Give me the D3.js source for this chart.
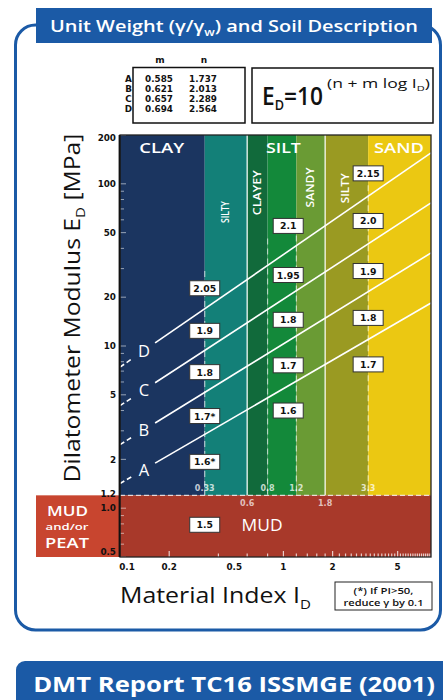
<!DOCTYPE html>
<html><head><meta charset="utf-8">
<script src="https://cdn.jsdelivr.net/npm/d3@7"></script>
<style>body{margin:0;background:#fff}svg{display:block}text{font-family:'Open Sans','Noto Sans',sans-serif}</style>
</head><body>
<script>
// ---- data ----
const curveNames = ["A","B","C","D"];
const mValues = [0.585,0.621,0.657,0.694];
const nValues = [1.737,2.013,2.289,2.564];
const zoneBounds = [0.1,0.33,0.6,0.8,1.2,1.8,3.3,8];
const zoneColors = ["#1b3560","#138078","#116a3b","#13893a","#6a9b34","#9a9a22","#ebc812"];
const mainSoilNames = ["CLAY","SILT","SAND"];
const mainSoilID = [0.18,1.0,5.1];
const mainSoilWidth = [45,35,50];
const subSoilNames = ["SILTY","CLAYEY","SANDY","SILTY"];
const subSoilID = [0.445,0.693,1.47,2.4];
const subSoilED = [67,88,95,94];
const subSoilLen = [22,45,40,30];
const solidBounds = [0.6,1.8];
const dashedBounds = [0.33,0.8,1.2,3.3];
const dashedTopED = [29,46,48,98];
const upperBoundLabels = ["0.33","0.8","1.2","3.3"];
const mudBoundLabels = ["0.6","1.8"];
const gammaText = ["2.05","1.9","1.8","1.7*","1.6*","2.1","1.95","1.8","1.7","1.6","2.15","2.0","1.9","1.8","1.7","1.5"];
const gammaID = [0.33,0.33,0.33,0.33,0.33,1.07,1.07,1.07,1.07,1.07,3.3,3.3,3.3,3.3,3.3,0.33];
const gammaED = [22.7,12.4,6.9,3.7,1.93,55,27.4,14.5,7.6,4.0,116,59,29,14.9,7.7,0.79];
const yTickValues = [200,100,50,20,10,5,2,1.2,1.0,0.5];
const yTickLabels = ["200","100","50","20","10","5","2","1.2","1.0","0.5"];
const xTickValues = [0.1,0.2,0.5,1,2,5];
const xTickLabels = ["0.1","0.2","0.5","1","2","5"];
const mudLimitED = 1.2;
const xDomain = [0.1,8];
const yDomain = [0.5,200];

// ---- layout ----
const W = 443, H = 700;
const L = 120, R = 431, T = 135, B = 557;
const blue = "#1b5aa6";
const DJ = "'DejaVu Sans',sans-serif";
const svg = d3.select("body").append("svg").attr("width",W).attr("height",H);
svg.append("rect").attr("width",W).attr("height",H).attr("fill","#fff");

const x = d3.scaleLog().domain(xDomain).range([L,R]);
const y = d3.scaleLog().domain(yDomain).range([B,T]);
const yMud = y(mudLimitED);

// text helper: writes real text, stretched horizontally to a target width
function fitText(parent, segs, o){
  const g = parent.append("g");
  const t = g.append("text").attr("text-anchor",o.anchor||"middle").attr("fill",o.fill||"#111")
    .attr("font-size",o.size).attr("font-weight",o.weight||500);
  if(o.family) t.style("font-family",o.family);
  segs.forEach(s=>{
    const ts = t.append("tspan").text(s.t);
    if(s.size) ts.attr("font-size",s.size);
    if(s.dy) ts.attr("dy",s.dy);
  });
  const bw = t.node().getComputedTextLength();
  const sx = o.w ? o.w/bw : (o.sx||1);
  g.attr("transform",`translate(${o.x},${o.y}) rotate(${o.rot||0}) scale(${sx},1)`);
  return g;
}

// frame
svg.append("rect").attr("x",15.5).attr("y",25).attr("width",425).attr("height",605)
  .attr("rx",20).attr("fill","none").attr("stroke",blue).attr("stroke-width",3);
svg.append("rect").attr("x",36).attr("y",8).attr("width",396).attr("height",35).attr("fill",blue);
fitText(svg,[{t:"Unit Weight (γ/γ"},{t:"w",size:11,dy:4},{t:") and Soil Description",dy:-4}],
  {x:234,y:32,w:368,size:17,weight:600,fill:"#fff"});

// footer
svg.append("rect").attr("x",16).attr("y",661).attr("width",460).attr("height",60).attr("rx",9).attr("fill",blue);
fitText(svg,[{t:"DMT Report TC16 ISSMGE (2001)"}],{x:234,y:692,w:402,size:22,weight:700,fill:"#fff"});

// zones
const zoneIdx = d3.range(zoneColors.length);
svg.append("g").selectAll("rect").data(zoneIdx).join("rect")
  .attr("x",i=>x(zoneBounds[i])).attr("width",i=>x(zoneBounds[i+1])-x(zoneBounds[i]))
  .attr("y",T).attr("height",yMud-T).attr("fill",i=>zoneColors[i]);
// mud
svg.append("rect").attr("x",L).attr("width",R-L).attr("y",yMud).attr("height",B-yMud).attr("fill","#a8392a");
svg.append("rect").attr("x",36).attr("width",L-36).attr("y",yMud).attr("height",B-yMud).attr("fill","#c8452f");
fitText(svg,[{t:"MUD"}],{x:67.5,y:515.5,w:41,size:13.5,weight:600,fill:"#fff"});
fitText(svg,[{t:"and/or"}],{x:67,y:530,w:43,size:9.5,weight:600,fill:"#fff"});
fitText(svg,[{t:"PEAT"}],{x:67,y:547.5,w:44,size:13.5,weight:600,fill:"#fff"});

// boundary lines
svg.append("g").selectAll("line").data(solidBounds).join("line")
  .attr("x1",d=>x(d)).attr("x2",d=>x(d)).attr("y1",T).attr("y2",yMud)
  .attr("stroke","#fff").attr("stroke-opacity",0.85).attr("stroke-width",1.4);
svg.append("g").selectAll("line").data(dashedBounds).join("line")
  .attr("x1",d=>x(d)).attr("x2",d=>x(d)).attr("y1",(d,i)=>y(dashedTopED[i])).attr("y2",yMud)
  .attr("stroke","#fff").attr("stroke-opacity",0.6).attr("stroke-width",1.2).attr("stroke-dasharray","6,4");
svg.append("line").attr("x1",L).attr("x2",R).attr("y1",yMud).attr("y2",yMud)
  .attr("stroke","#fff").attr("stroke-opacity",0.75).attr("stroke-width",1.3).attr("stroke-dasharray","5,3");

// boundary value labels
svg.append("g").selectAll("text").data(dashedBounds).join("text")
  .attr("x",d=>x(d)).attr("y",yMud-4).attr("text-anchor","middle").attr("fill","#fff").attr("fill-opacity",0.75)
  .style("font-family",DJ).attr("font-size",8).attr("font-weight",700).text((d,i)=>upperBoundLabels[i]);
svg.append("g").selectAll("text").data(solidBounds).join("text")
  .attr("x",d=>x(d)).attr("y",yMud+11).attr("text-anchor","middle").attr("fill","#fff").attr("fill-opacity",0.7)
  .style("font-family",DJ).attr("font-size",8).attr("font-weight",700).text((d,i)=>mudBoundLabels[i]);

// curves
const ed = (i,id)=>Math.pow(10, nValues[i]-1 + mValues[i]*Math.log10(id));
const dashEnd = 0.12, solidStart = 0.164, labelID = 0.14;
const cg = svg.append("g");
curveNames.forEach((nm,i)=>{
  cg.append("line").attr("x1",x(xDomain[0])).attr("y1",y(ed(i,xDomain[0])))
    .attr("x2",x(dashEnd)).attr("y2",y(ed(i,dashEnd)))
    .attr("stroke","#fff").attr("stroke-width",1.6).attr("stroke-dasharray","5,3");
  cg.append("line").attr("x1",x(solidStart)).attr("y1",y(ed(i,solidStart)))
    .attr("x2",x(xDomain[1])).attr("y2",y(ed(i,xDomain[1])))
    .attr("stroke","#fff").attr("stroke-width",1.6);
  cg.append("text").attr("x",x(labelID)).attr("y",y(ed(i,labelID))+6).attr("text-anchor","middle")
    .attr("fill","#fff").attr("font-size",16.5).attr("font-weight",500).text(nm);
});

// zone labels
mainSoilNames.forEach((nm,i)=>fitText(svg,[{t:nm}],{x:x(mainSoilID[i]),y:T+17.5,w:mainSoilWidth[i],size:15,weight:600,fill:"#fff"}));
subSoilNames.forEach((nm,i)=>fitText(svg,[{t:nm}],{x:x(subSoilID[i])+3.5,y:y(subSoilED[i]),w:subSoilLen[i],rot:-90,size:10,weight:600,fill:"#fff"}));

// gamma boxes
const gg = svg.append("g").selectAll("g").data(gammaText).join("g")
  .attr("transform",(d,i)=>`translate(${x(gammaID[i])},${y(gammaED[i])})`);
gg.append("rect").attr("x",-15).attr("y",-7.5).attr("width",30).attr("height",15)
  .attr("fill","#fff").attr("stroke","#333").attr("stroke-width",1);
gg.append("text").attr("y",3.5).attr("text-anchor","middle").attr("fill","#111")
  .style("font-family",DJ).attr("font-size",9.3).attr("font-weight",700).text(d=>d);
fitText(svg,[{t:"MUD"}],{x:x(0.74),y:y(0.79)+6,w:41,size:16,weight:500,fill:"#fff"});

// ticks (inward, light)
const yMinor = y.ticks(40);
svg.append("g").selectAll("line").data(yMinor).join("line")
  .attr("x1",L).attr("x2",d=>L+(yTickValues.includes(d)?6:4)).attr("y1",d=>y(d)).attr("y2",d=>y(d))
  .attr("stroke","#fff").attr("stroke-opacity",0.55).attr("stroke-width",1);
const xMinor = x.ticks(40);
svg.append("g").selectAll("line").data(xMinor).join("line")
  .attr("y1",B).attr("y2",d=>B-(xTickValues.includes(d)?6:3.5)).attr("x1",d=>x(d)).attr("x2",d=>x(d))
  .attr("stroke","#fff").attr("stroke-opacity",0.75).attr("stroke-width",1.2);

// border
svg.append("rect").attr("x",L).attr("y",T).attr("width",R-L).attr("height",B-T)
  .attr("fill","none").attr("stroke","#222").attr("stroke-width",1.3);
svg.append("line").attr("x1",L-0.5).attr("x2",L-0.5).attr("y1",T).attr("y2",B).attr("stroke","#111").attr("stroke-width",1.8);

// tick labels
const yShift = {"200":3,"1.2":-2,"0.5":-5};
svg.append("g").selectAll("text").data(yTickValues).join("text")
  .attr("x",L-4).attr("y",(d,i)=>y(d)+3.2+(yShift[yTickLabels[i]]||0)).attr("text-anchor","end")
  .style("font-family",DJ).attr("fill","#111").attr("font-size",8.8).attr("font-weight",700).text((d,i)=>yTickLabels[i]);
svg.append("g").selectAll("text").data(xTickValues).join("text")
  .attr("x",(d,i)=>x(d)+(i===0?7:0)).attr("y",B+13).attr("text-anchor","middle")
  .style("font-family",DJ).attr("fill","#111").attr("font-size",8.8).attr("font-weight",700).text((d,i)=>xTickLabels[i]);

// axis titles
fitText(svg,[{t:"Dilatometer Modulus E"},{t:"D",size:13,dy:5},{t:" [MPa]",dy:-5}],
  {x:80,y:308,w:349,rot:-90,size:21.5,weight:500});
fitText(svg,[{t:"Material Index I"},{t:"D",size:13,dy:6}],
  {x:120,y:603,w:191,anchor:"start",size:21.5,weight:500});

// table
svg.append("rect").attr("x",133).attr("y",67.5).attr("width",112).attr("height",55.5)
  .attr("fill","none").attr("stroke","#111").attr("stroke-width",1.5);
svg.append("text").attr("x",160).attr("y",63).attr("text-anchor","middle").style("font-family",DJ).attr("font-size",9).attr("font-weight",700).attr("fill","#111").text("m");
svg.append("text").attr("x",204).attr("y",63).attr("text-anchor","middle").style("font-family",DJ).attr("font-size",9).attr("font-weight",700).attr("fill","#111").text("n");
const rows = svg.append("g").selectAll("g").data(curveNames).join("g")
  .attr("transform",(d,i)=>`translate(0,${81.5+i*10})`);
rows.append("text").attr("x",128.5).attr("text-anchor","middle").style("font-family",DJ).attr("font-size",8.8).attr("font-weight",700).attr("fill","#111").text(d=>d);
rows.append("text").attr("x",159).attr("text-anchor","middle").style("font-family",DJ).attr("font-size",8.8).attr("font-weight",700).attr("fill","#111").text((d,i)=>mValues[i].toFixed(3));
rows.append("text").attr("x",203).attr("text-anchor","middle").style("font-family",DJ).attr("font-size",8.8).attr("font-weight",700).attr("fill","#111").text((d,i)=>nValues[i].toFixed(3));

// equation
svg.append("rect").attr("x",252).attr("y",68).attr("width",181).attr("height",55)
  .attr("fill","none").attr("stroke","#111").attr("stroke-width",1.5);
fitText(svg,[{t:"E"},{t:"D",size:14,dy:5},{t:"=10",dy:-5}],{x:262,y:105,w:61,anchor:"start",size:25,weight:600});
fitText(svg,[{t:"(n + m log I"},{t:"D",size:7.5,dy:3},{t:")",dy:-3}],{x:327,y:88,w:103,anchor:"start",size:12,weight:500});

// footnote
svg.append("rect").attr("x",335).attr("y",582).attr("width",97).attr("height",28)
  .attr("fill","#fff").attr("stroke","#222").attr("stroke-width",1);
fitText(svg,[{t:"(*) If PI>50,"}],{x:383.5,y:594,w:60,size:8.8,weight:600});
fitText(svg,[{t:"reduce γ by 0.1"}],{x:383.5,y:605.5,w:80,size:8.8,weight:600});
</script>
</body></html>
